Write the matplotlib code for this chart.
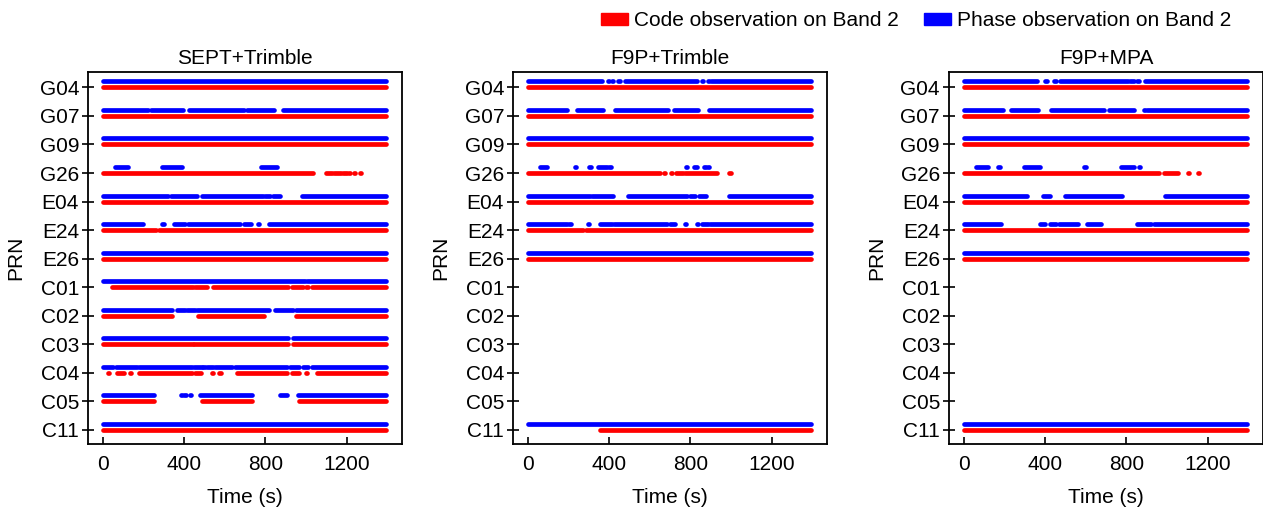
"""
Band 2 code/phase observation availability per PRN for three receiver/antenna setups.
Output: out.png
"""

import matplotlib
matplotlib.use('Agg')
import matplotlib.pyplot as plt
import matplotlib.patches as mpatches

plt.rcParams['font.family'] = ['Liberation Sans', 'DejaVu Sans']

PRNS = ['G04', 'G07', 'G09', 'G26', 'E04', 'E24', 'E26',
        'C01', 'C02', 'C03', 'C04', 'C05', 'C11']

TITLES = ['SEPT+Trimble', 'F9P+Trimble', 'F9P+MPA']

CODE_COLOR  = '#ff0000'
PHASE_COLOR = '#0000ff'

FULL = [(0, 1395)]

# tracked intervals in seconds, (start, end); short ones are isolated epochs
SEPT_CODE = {
    'G04': FULL, 'G07': FULL, 'G09': FULL,
    'G26': [(0, 1036), (1100, 1130), (1140, 1170), (1180, 1200),
            (1212, 1218), (1236, 1242), (1263, 1269)],
    'E04': FULL,
    'E24': [(0, 262), (279, 1395)],
    'E26': FULL,
    'C01': [(44, 443), (454, 511), (541, 913), (930, 987), (1002, 1008),
            (1028, 1395)],
    'C02': [(0, 339), (470, 795), (951, 1395)],
    'C03': [(0, 443), (451, 913), (934, 1395)],
    'C04': [(25, 31), (69, 105), (135, 141), (180, 438), (454, 482),
            (538, 544), (574, 580), (659, 905), (930, 966), (1000, 1006),
            (1052, 1395)],
    'C05': [(0, 254), (487, 733), (967, 1395)],
    'C11': FULL,
}
SEPT_PHASE = {
    'G04': FULL,
    'G07': [(0, 221), (236, 395), (423, 695), (711, 844), (885, 1395)],
    'G09': FULL,
    'G26': [(61, 123), (293, 392), (780, 859)],
    'E04': [(0, 323), (336, 462), (490, 790), (798, 823), (836, 872),
            (979, 1395)],
    'E24': [(0, 200), (292, 304), (351, 405), (421, 675), (697, 728),
            (762, 768), (820, 1395)],
    'E26': FULL,
    'C01': [(0, 995), (1007, 1395)],
    'C02': [(0, 339), (364, 405), (416, 454), (466, 818), (848, 938),
            (951, 1395)],
    'C03': [(0, 913), (934, 1395)],
    'C04': [(0, 52), (66, 170), (180, 438), (451, 487), (495, 501),
            (511, 544), (552, 634), (651, 905), (921, 966), (987, 1011),
            (1028, 1395)],
    'C05': [(0, 254), (386, 392), (402, 408), (427, 433), (479, 733),
            (872, 908), (959, 1395)],
    'C11': FULL,
}

F9P_TRM_CODE = {
    'G04': FULL, 'G07': FULL, 'G09': FULL,
    'G26': [(0, 651), (671, 677), (705, 711), (729, 766), (774, 930),
            (992, 998)],
    'E04': FULL,
    'E24': [(0, 270), (287, 1395)],
    'E26': FULL,
    'C11': [(356, 1395)],
}
F9P_TRM_PHASE = {
    'G04': [(0, 364), (394, 400), (415, 421), (446, 452), (479, 831),
            (858, 864), (886, 892), (900, 1395)],
    'G07': [(0, 192), (241, 369), (430, 692), (720, 839), (893, 1395)],
    'G09': FULL,
    'G26': [(61, 93), (233, 239), (304, 310), (344, 389), (402, 408),
            (779, 785), (818, 834), (869, 875), (886, 892)],
    'E04': [(0, 307), (315, 421), (495, 782), (798, 823), (844, 877),
            (992, 1395)],
    'E24': [(0, 192), (205, 211), (295, 301), (356, 413), (426, 687),
            (700, 725), (774, 780), (831, 837), (856, 889), (897, 1395)],
    'E26': FULL,
    'C11': FULL,
}

F9P_MPA_CODE = {
    'G04': FULL, 'G07': FULL, 'G09': FULL,
    'G26': [(0, 963), (987, 1052), (1103, 1109), (1151, 1157)],
    'E04': FULL, 'E24': FULL, 'E26': FULL, 'C11': FULL,
}
F9P_MPA_PHASE = {
    'G04': [(0, 361), (402, 408), (442, 454), (472, 808), (816, 837),
            (854, 860), (893, 1395)],
    'G07': [(0, 195), (234, 364), (431, 691), (714, 837), (886, 892),
            (901, 1395)],
    'G09': FULL,
    'G26': [(60, 122), (171, 177), (296, 377), (594, 600), (776, 837),
            (862, 868)],
    'E04': [(0, 312), (390, 423), (496, 779), (990, 1395)],
    'E24': [(0, 185), (374, 398), (426, 454), (470, 564), (605, 673),
            (850, 922), (935, 1395)],
    'E26': FULL,
    'C11': FULL,
}

PANELS = [(SEPT_CODE, SEPT_PHASE),
          (F9P_TRM_CODE, F9P_TRM_PHASE),
          (F9P_MPA_CODE, F9P_MPA_PHASE)]

PHASE_OFFSET = 0.21


def draw_segments(ax, segs, y, color):
    for s, e in segs:
        ax.plot([s, e], [y, y], color=color, linewidth=3.4,
                solid_capstyle='round')


fig = plt.figure(figsize=(12.63, 5.13), dpi=100)
lefts = [0.0697, 0.4062, 0.7514]

for left, title, (code, phase) in zip(lefts, TITLES, PANELS):
    ax = fig.add_axes([left, 0.1345, 0.2486, 0.7251])
    for i, prn in enumerate(PRNS):
        draw_segments(ax, code.get(prn, []), i, CODE_COLOR)
        draw_segments(ax, phase.get(prn, []), i - PHASE_OFFSET, PHASE_COLOR)

    ax.set_xlim(-72, 1472)
    ax.set_ylim(len(PRNS) - 0.5, -0.54)
    ax.set_yticks(range(len(PRNS)))
    ax.set_yticklabels(PRNS)
    ax.set_xticks([0, 400, 800, 1200])
    ax.tick_params(axis='y', direction='inout', length=9, width=1.2,
                   labelsize=15, pad=2)
    ax.tick_params(axis='x', direction='in', length=5, width=1.2,
                   labelsize=15, pad=8)
    for sp in ax.spines.values():
        sp.set_linewidth(1.3)
    ax.set_title(title, fontsize=15, pad=6)
    ax.set_xlabel('Time (s)', fontsize=15, labelpad=10)
    ax.set_ylabel('PRN', fontsize=15, labelpad=10)

handles = [mpatches.Patch(color=CODE_COLOR, label='Code observation on Band 2'),
           mpatches.Patch(color=PHASE_COLOR, label='Phase observation on Band 2')]
fig.legend(handles=handles, loc='upper right', bbox_to_anchor=(0.99, 1.015),
           ncol=2, frameon=False, fontsize=15, handlelength=1.3,
           handleheight=0.5, handletextpad=0.3, columnspacing=1.2)

fig.savefig('out.png', dpi=100)
